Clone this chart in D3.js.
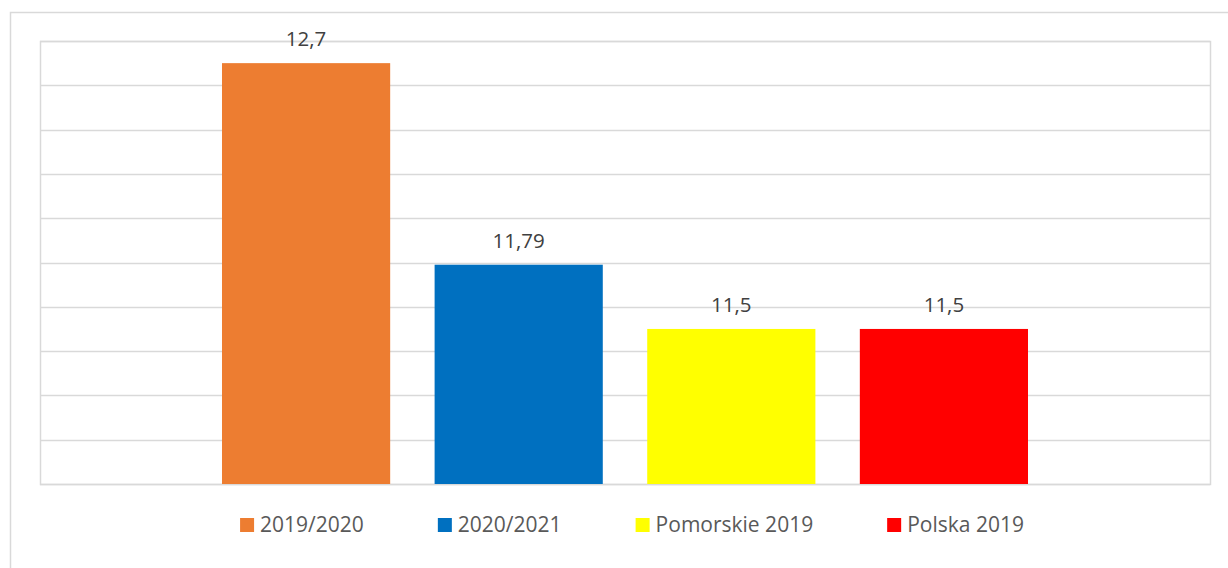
<!DOCTYPE html>
<html>
<head>
<meta charset="utf-8">
<script src="https://cdn.jsdelivr.net/npm/d3@7"></script>
<style>
  body { margin: 0; background: #fff; }
  svg { display: block; font-family: "Open Sans", "Noto Sans", sans-serif; }
</style>
</head>
<body>
<div id="chart"></div>
<script>
// data
var seriesNames = ["2019/2020", "2020/2021", "Pomorskie 2019", "Polska 2019"];
var seriesValues = [12.7, 11.79, 11.5, 11.5];
var valueLabels = ["12,7", "11,79", "11,5", "11,5"];
var seriesColors = ["#ED7D31", "#0070C0", "#FFFF00", "#FF0000"];
var yTicks = [10.8, 11, 11.2, 11.4, 11.6, 11.8, 12, 12.2, 12.4, 12.6, 12.8];

var width = 1228, height = 568;
var margin = {top: 41, right: 18, bottom: 84, left: 40};
var plotW = width - margin.left - margin.right,
    plotH = height - margin.top - margin.bottom;

var svg = d3.select("#chart").append("svg")
    .attr("width", width)
    .attr("height", height);

// outer chart border
svg.append("rect")
    .attr("x", 10.5).attr("y", 12.5)
    .attr("width", 1300).attr("height", 700)
    .attr("fill", "none")
    .attr("stroke", "#d9d9d9")
    .attr("stroke-width", 1.5);

var g = svg.append("g")
    .attr("transform", "translate(" + margin.left + "," + margin.top + ")");

var y = d3.scaleLinear()
    .domain([10.8, 12.8])
    .range([plotH, 0]);

var x = d3.scaleBand()
    .domain(seriesNames)
    .range([0, plotW])
    .paddingInner(0.209)
    .paddingOuter(0.856);

// gridlines
g.append("g")
    .selectAll("line")
    .data(yTicks)
  .enter().append("line")
    .attr("x1", 0).attr("x2", plotW)
    .attr("y1", function(d) { return Math.round(y(d)) + 0.5; })
    .attr("y2", function(d) { return Math.round(y(d)) + 0.5; })
    .attr("stroke", "#d9d9d9")
    .attr("stroke-width", 1.5);

// plot area sides
g.append("rect")
    .attr("x", 0.5).attr("y", Math.round(y(12.8)) + 0.5)
    .attr("width", plotW).attr("height", Math.round(y(10.8)) - Math.round(y(12.8)))
    .attr("fill", "none")
    .attr("stroke", "#d9d9d9")
    .attr("stroke-width", 1.5);

// bars
g.append("g")
    .selectAll("rect")
    .data(seriesValues)
  .enter().append("rect")
    .attr("x", function(d, i) { return x(seriesNames[i]); })
    .attr("y", function(d) { return y(d); })
    .attr("width", x.bandwidth())
    .attr("height", function(d) { return y(10.8) - y(d); })
    .style("fill", function(d, i) { return seriesColors[i]; });

// value labels
g.append("g")
    .selectAll("text")
    .data(seriesValues)
  .enter().append("text")
    .attr("x", function(d, i) { return x(seriesNames[i]) + x.bandwidth() / 2; })
    .attr("y", function(d) { return y(d) - 17; })
    .attr("text-anchor", "middle")
    .style("font-size", "20.5px")
    .style("fill", "#404040")
    .text(function(d, i) { return valueLabels[i]; });

// legend
var legend = svg.append("g").attr("class", "legend");
var items = legend.selectAll("g")
    .data(seriesNames)
  .enter().append("g");

items.append("rect")
    .attr("width", 14).attr("height", 14)
    .attr("y", 518)
    .style("fill", function(d, i) { return seriesColors[i]; });

items.append("text")
    .attr("x", 20)
    .attr("y", 532)
    .style("font-size", "21px")
    .style("fill", "#595959")
    .text(function(d) { return d; });

var gap = 74, pos = 0, starts = [];
items.each(function() {
    starts.push(pos);
    pos += 20 + this.querySelector("text").getComputedTextLength() + gap;
});
var total = pos - gap;
var left0 = 632 - total / 2;
items.attr("transform", function(d, i) { return "translate(" + (left0 + starts[i]) + ",0)"; });
</script>
</body>
</html>
